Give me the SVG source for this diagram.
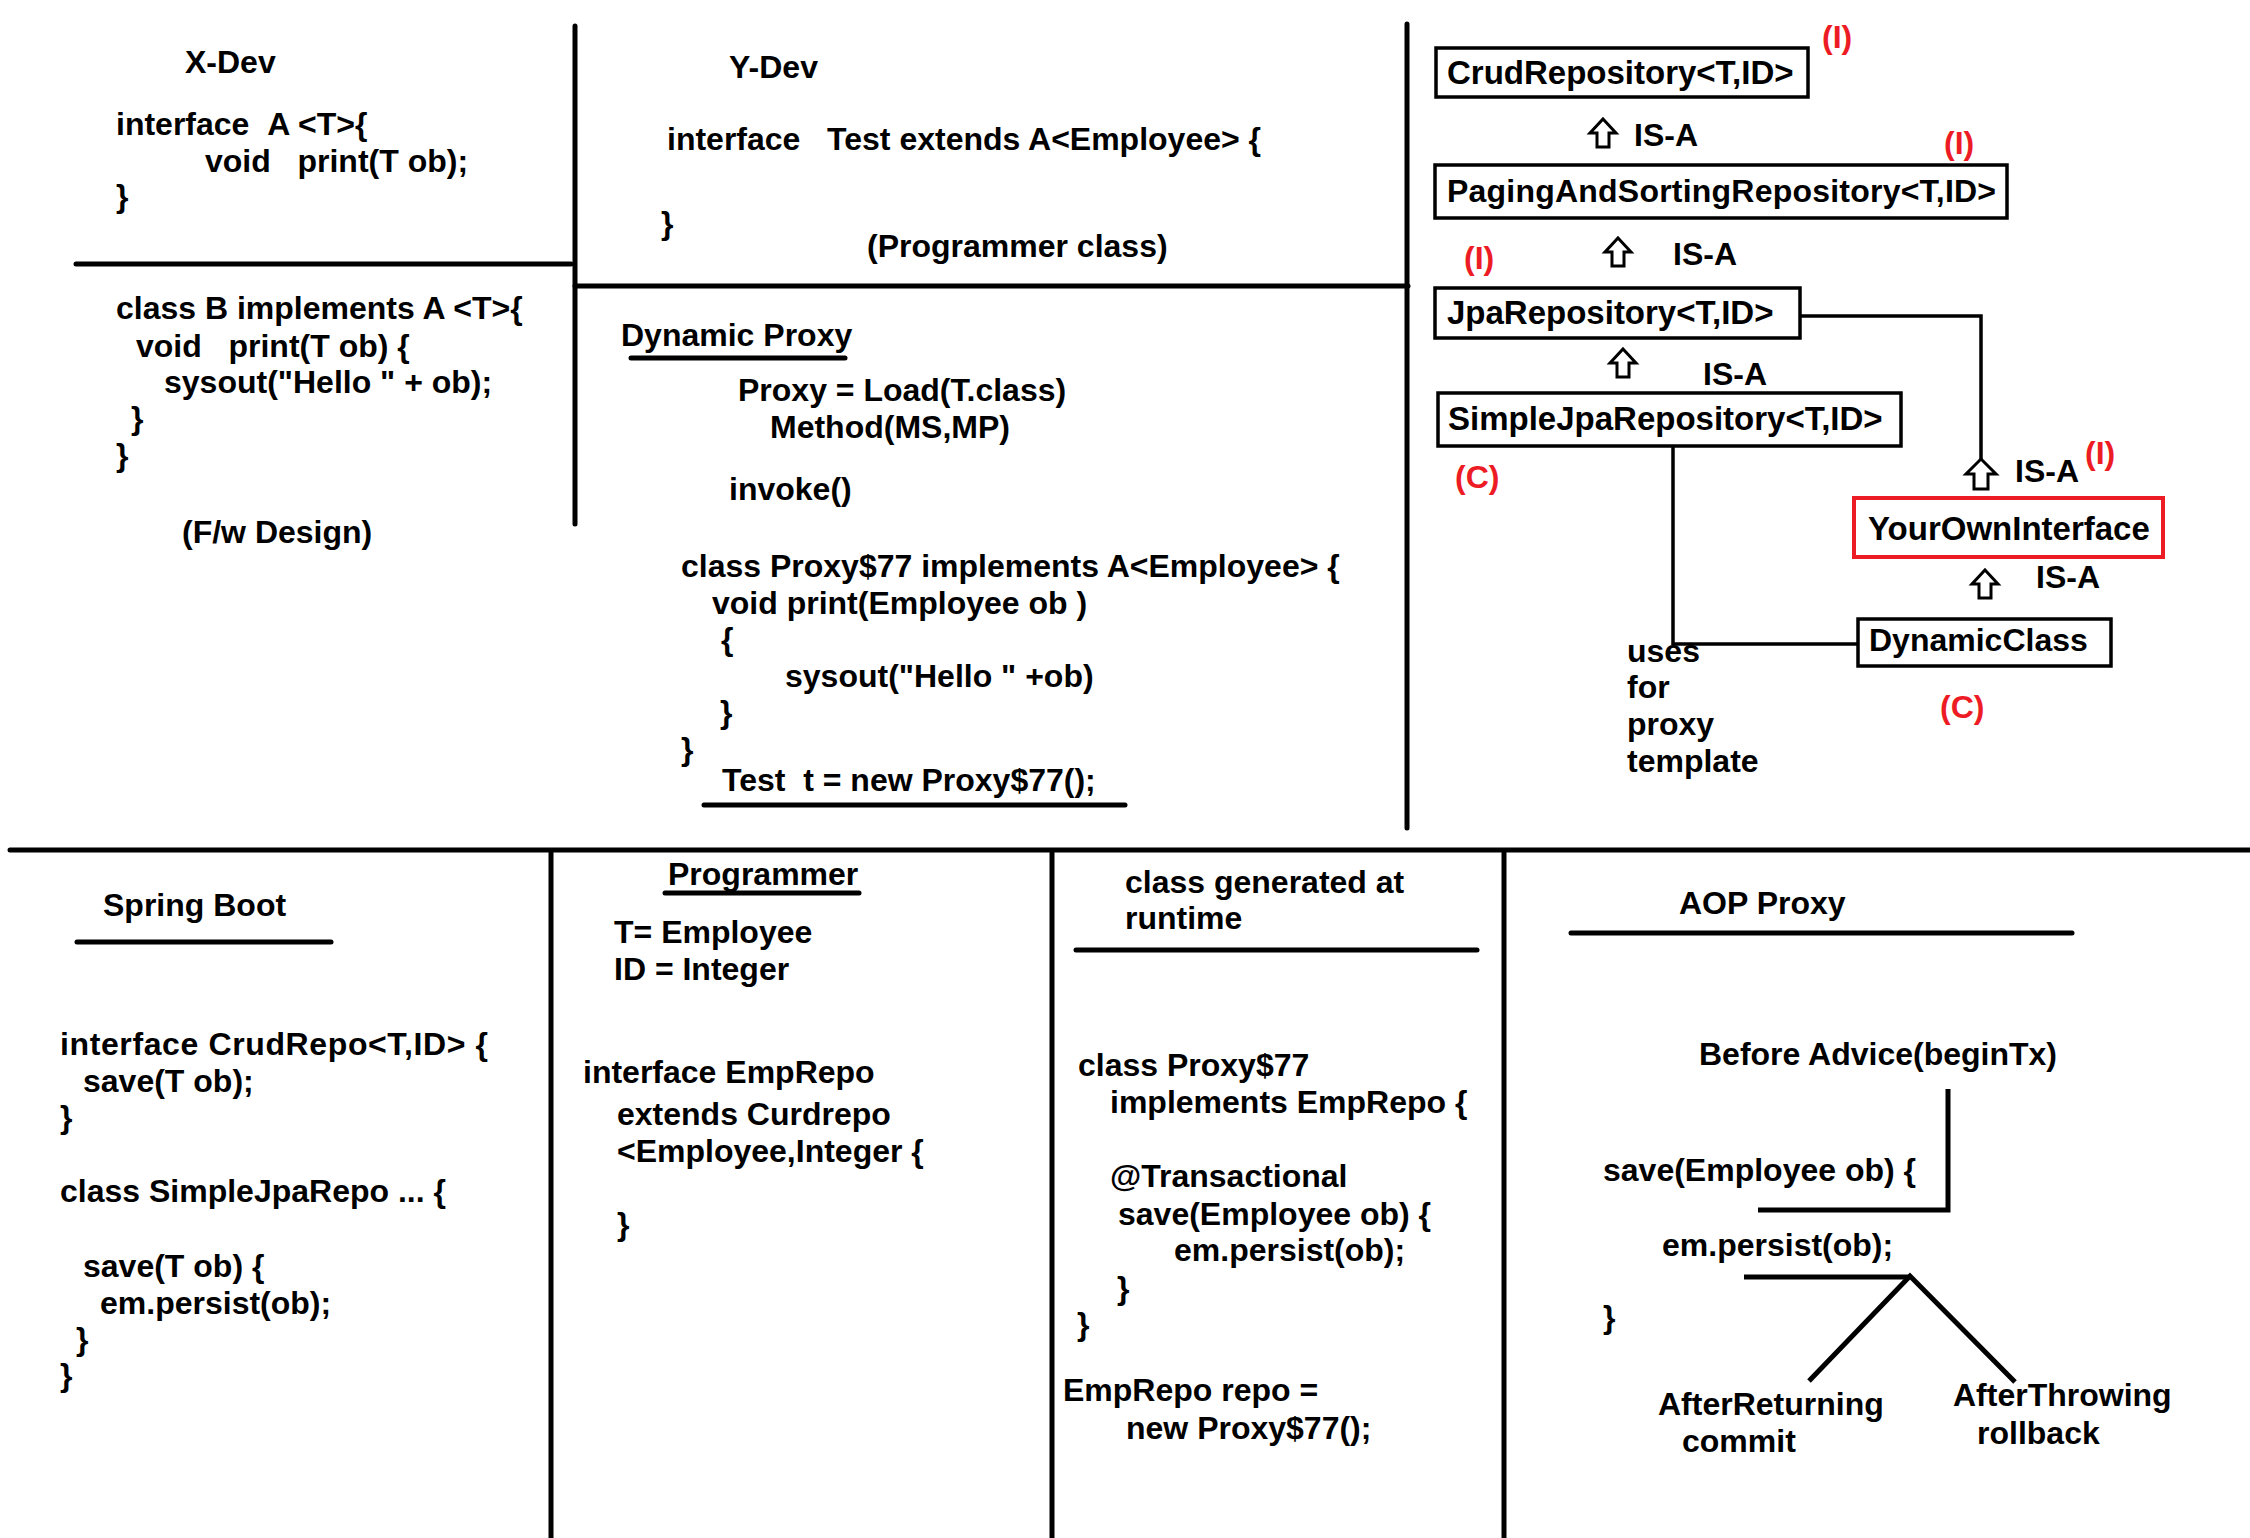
<svg xmlns="http://www.w3.org/2000/svg" width="2250" height="1538" viewBox="0 0 2250 1538">
  <style>
    text { font-family: "Liberation Sans", Arial, sans-serif; font-size: 32px; }
    .t { font-weight: bold; fill: #000; }
    .b { font-size: 33px; }
    .r { font-weight: bold; fill: #ED1C24; }
    .div { stroke: #000; stroke-width: 5; stroke-linecap: round; fill: none; }
    .ul { stroke: #000; stroke-width: 5; stroke-linecap: round; fill: none; }
    .box { fill: #fff; stroke: #000; stroke-width: 3.5; }
    .redbox { fill: #fff; stroke: #ED1C24; stroke-width: 4; }
    .conn { stroke: #000; stroke-width: 3.5; fill: none; }
    .aop { stroke: #000; stroke-width: 5; fill: none; }
    .isa { fill: #fff; stroke: #000; stroke-width: 3; stroke-linejoin: miter; }
  </style>
  <defs>
    <!-- hollow "IS-A" block arrow, tip at (0,0) -->
    <path id="isaArrow" class="isa" d="M0,0 L13,14 L6,14 L6,28 L-6,28 L-6,14 L-13,14 Z"/>
    <path id="isaArrowLarge" class="isa" d="M0,0 L15,15 L7,15 L7,30 L-7,30 L-7,15 L-15,15 Z"/>
  </defs>

  <rect width="2250" height="1538" fill="#fff"/>

  <!-- panel dividers -->
  <g id="dividers">
    <line class="div" x1="76" y1="264" x2="571" y2="264"/>
    <line class="div" x1="575" y1="26" x2="575" y2="524"/>
    <line class="div" x1="575" y1="286" x2="1408" y2="286"/>
    <line class="div" x1="1407" y1="24" x2="1407" y2="828"/>
    <line class="div" x1="10" y1="850" x2="2250" y2="850"/>
    <line class="div" x1="551" y1="853" x2="551" y2="1540"/>
    <line class="div" x1="1052" y1="853" x2="1052" y2="1540"/>
    <line class="div" x1="1504" y1="853" x2="1504" y2="1540"/>
  </g>

  <!-- X-Dev: framework interface and class -->
  <g id="x-dev">
    <text class="t" x="185" y="73">X-Dev</text>
    <text class="t" x="116" y="135">interface &#160;A &lt;T&gt;{</text>
    <text class="t" x="205" y="172">void &#160; print(T ob);</text>
    <text class="t" x="116" y="207">}</text>
    <text class="t" x="116" y="319">class B implements A &lt;T&gt;{</text>
    <text class="t" x="136" y="357">void &#160; print(T ob) {</text>
    <text class="t" x="164" y="393">sysout("Hello " + ob);</text>
    <text class="t" x="131" y="429">}</text>
    <text class="t" x="116" y="466">}</text>
    <text class="t" x="182" y="543">(F/w Design)</text>
  </g>

  <!-- Y-Dev: programmer interface -->
  <g id="y-dev">
    <text class="t" x="729" y="78">Y-Dev</text>
    <text class="t" x="667" y="150">interface &#160; Test extends A&lt;Employee&gt; {</text>
    <text class="t" x="661" y="234">}</text>
    <text class="t" x="867" y="257">(Programmer class)</text>
  </g>

  <!-- Dynamic proxy generation -->
  <g id="dynamic-proxy">
    <text class="t" x="621" y="346">Dynamic Proxy</text>
    <line class="ul" x1="631" y1="358" x2="845" y2="358"/>
    <text class="t" x="738" y="401">Proxy = Load(T.class)</text>
    <text class="t" x="770" y="438">Method(MS,MP)</text>
    <text class="t" x="729" y="500">invoke()</text>
    <text class="t" x="681" y="577">class Proxy$77 implements A&lt;Employee&gt; {</text>
    <text class="t" x="712" y="614">void print(Employee ob )</text>
    <text class="t" x="721" y="650">{</text>
    <text class="t" x="785" y="687">sysout("Hello " +ob)</text>
    <text class="t" x="720" y="723">}</text>
    <text class="t" x="681" y="760">}</text>
    <text class="t" x="722" y="791">Test &#160;t = new Proxy$77();</text>
    <line class="ul" x1="704" y1="805" x2="1125" y2="805"/>
  </g>

  <!-- repository hierarchy connectors -->
  <g id="connectors">
    <polyline class="conn" points="1800,316 1981,316 1981,460"/>
    <polyline class="conn" points="1673,446 1673,644 1858,644"/>
    <use href="#isaArrow" x="1603" y="119"/>
    <use href="#isaArrow" x="1618" y="238"/>
    <use href="#isaArrow" x="1623" y="349"/>
    <use href="#isaArrowLarge" x="1981" y="459"/>
    <use href="#isaArrow" x="1985" y="570"/>
    <text class="t" x="1634" y="146">IS-A</text>
    <text class="t" x="1673" y="265">IS-A</text>
    <text class="t" x="1703" y="385">IS-A</text>
    <text class="t" x="2015" y="482">IS-A</text>
    <text class="t" x="2036" y="588">IS-A</text>
  </g>

  <g id="crud-repository">
    <rect class="box" x="1436" y="48" width="372" height="49"/>
    <text class="t b" x="1447" y="84">CrudRepository&lt;T,ID&gt;</text>
    <text class="r" x="1822" y="48">(I)</text>
  </g>

  <g id="paging-sorting-repository">
    <rect class="box" x="1435" y="165" width="572" height="53"/>
    <text class="t" x="1447" y="202" textLength="549">PagingAndSortingRepository&lt;T,ID&gt;</text>
    <text class="r" x="1944" y="154">(I)</text>
  </g>

  <g id="jpa-repository">
    <rect class="box" x="1435" y="288" width="365" height="50"/>
    <text class="t b" x="1447" y="324">JpaRepository&lt;T,ID&gt;</text>
    <text class="r" x="1464" y="269">(I)</text>
  </g>

  <g id="simple-jpa-repository">
    <rect class="box" x="1438" y="393" width="463" height="53"/>
    <text class="t b" x="1448" y="430">SimpleJpaRepository&lt;T,ID&gt;</text>
    <text class="r" x="1455" y="488">(C)</text>
  </g>

  <g id="your-own-interface">
    <rect class="redbox" x="1854" y="498" width="309" height="59"/>
    <text class="t b" x="1868" y="540">YourOwnInterface</text>
    <text class="r" x="2085" y="464">(I)</text>
  </g>

  <g id="dynamic-class">
    <rect class="box" x="1858" y="619" width="253" height="47"/>
    <text class="t" x="1869" y="651">DynamicClass</text>
    <text class="r" x="1940" y="718">(C)</text>
  </g>

  <g id="uses-note">
    <text class="t" x="1627" y="662">uses</text>
    <text class="t" x="1627" y="698">for</text>
    <text class="t" x="1627" y="735">proxy</text>
    <text class="t" x="1627" y="772">template</text>
  </g>

  <!-- Spring Boot repository code -->
  <g id="spring-boot">
    <text class="t" x="103" y="916">Spring Boot</text>
    <line class="ul" x1="77" y1="942" x2="331" y2="942"/>
    <text class="t" x="60" y="1055" textLength="428">interface CrudRepo&lt;T,ID&gt; {</text>
    <text class="t" x="83" y="1092">save(T ob);</text>
    <text class="t" x="60" y="1128">}</text>
    <text class="t" x="60" y="1202">class SimpleJpaRepo ... {</text>
    <text class="t" x="83" y="1277">save(T ob) {</text>
    <text class="t" x="100" y="1314">em.persist(ob);</text>
    <text class="t" x="76" y="1350">}</text>
    <text class="t" x="60" y="1386">}</text>
  </g>

  <g id="programmer">
    <text class="t" x="668" y="885">Programmer</text>
    <line class="ul" x1="665" y1="893" x2="859" y2="893"/>
    <text class="t" x="614" y="943">T= Employee</text>
    <text class="t" x="614" y="980">ID = Integer</text>
    <text class="t" x="583" y="1083">interface EmpRepo</text>
    <text class="t" x="617" y="1125">extends Curdrepo</text>
    <text class="t" x="617" y="1162">&lt;Employee,Integer {</text>
    <text class="t" x="617" y="1235">}</text>
  </g>

  <g id="runtime-class">
    <text class="t" x="1125" y="893">class generated at</text>
    <text class="t" x="1125" y="929">runtime</text>
    <line class="ul" x1="1076" y1="950" x2="1477" y2="950"/>
    <text class="t" x="1078" y="1076">class Proxy$77</text>
    <text class="t" x="1110" y="1113">implements EmpRepo {</text>
    <text class="t" x="1110" y="1187">@Transactional</text>
    <text class="t" x="1118" y="1225">save(Employee ob) {</text>
    <text class="t" x="1174" y="1261">em.persist(ob);</text>
    <text class="t" x="1117" y="1299">}</text>
    <text class="t" x="1077" y="1335">}</text>
    <text class="t" x="1063" y="1401">EmpRepo repo =</text>
    <text class="t" x="1126" y="1439">new Proxy$77();</text>
  </g>

  <g id="aop-proxy">
    <text class="t" x="1679" y="914">AOP Proxy</text>
    <line class="ul" x1="1571" y1="933" x2="2072" y2="933"/>
    <text class="t" x="1699" y="1065">Before Advice(beginTx)</text>
    <text class="t" x="1603" y="1181">save(Employee ob) {</text>
    <text class="t" x="1662" y="1256">em.persist(ob);</text>
    <text class="t" x="1603" y="1328">}</text>
    <polyline class="aop" points="1948,1089 1948,1210 1758,1210"/>
    <polyline class="aop" points="1744,1277 1910,1277"/>
    <polyline class="aop" points="1809,1381 1910,1276 2015,1382"/>
    <text class="t" x="1658" y="1415">AfterReturning</text>
    <text class="t" x="1682" y="1452">commit</text>
    <text class="t" x="1953" y="1406">AfterThrowing</text>
    <text class="t" x="1977" y="1444">rollback</text>
  </g>
</svg>
